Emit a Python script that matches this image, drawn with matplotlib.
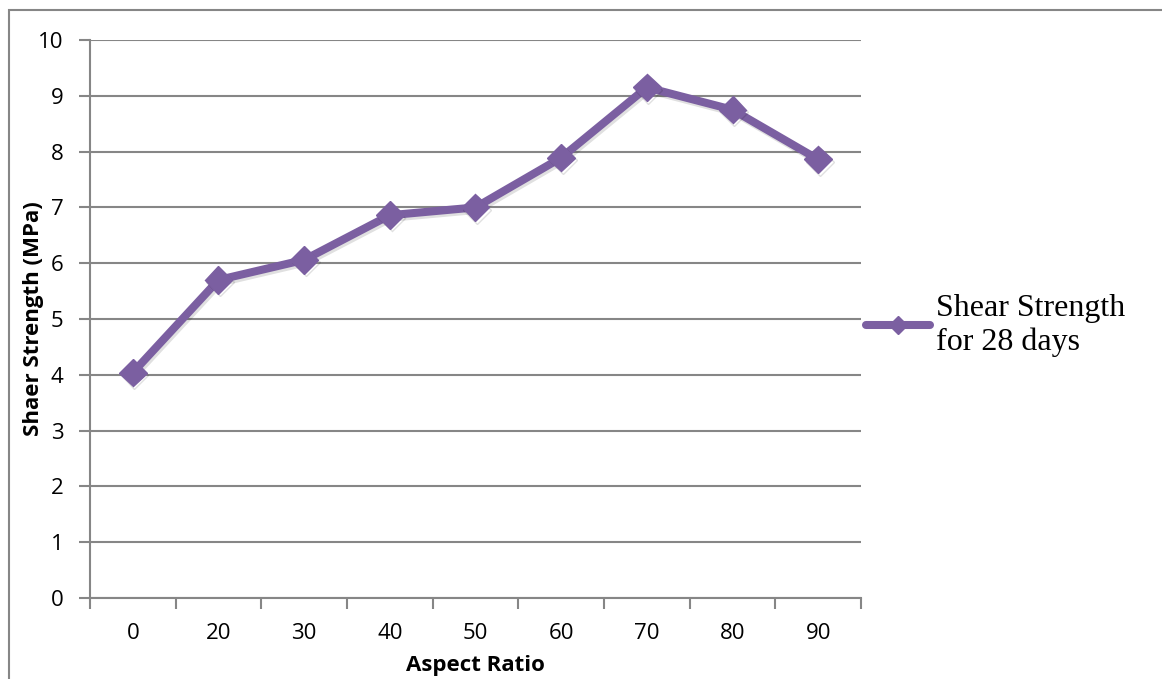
import matplotlib.pyplot as plt
import matplotlib.patheffects as pe
from matplotlib.lines import Line2D
from matplotlib.patches import Rectangle

aspect_ratio = ["0", "20", "30", "40", "50", "60", "70", "80", "90"]
shear_strength = [4.04, 5.70, 6.06, 6.86, 7.00, 7.89, 9.15, 8.75, 7.86]

W, H = 1162, 679
GRID = "#868686"
PURPLE = "#7b5fa1"

plt.rcParams["font.family"] = ["Open Sans", "DejaVu Sans"]

fig = plt.figure(figsize=(W / 100, H / 100), dpi=100)
fig.patch.set_facecolor("white")

# outer chart frame
fig.patches.append(Rectangle((9 / W, -0.1), 1.2, 1.1 - 10.5 / H,
                             transform=fig.transFigure, fill=False,
                             edgecolor=GRID, linewidth=1.5))

ax = fig.add_axes([90 / W, (H - 598) / H, 771 / W, 558 / H])
x = list(range(len(aspect_ratio)))

shadow = [pe.SimpleLineShadow(offset=(1.2, -1.8), shadow_color="black", alpha=0.12),
          pe.Normal()]
ax.plot(x, shear_strength, color=PURPLE, linewidth=5.8, marker="D",
        markersize=14, markerfacecolor=PURPLE, markeredgecolor=PURPLE,
        solid_joinstyle="round", path_effects=shadow, zorder=3)

ax.set_xlim(-0.5, len(aspect_ratio) - 0.5)
ax.set_ylim(0, 10)
ax.set_yticks(range(0, 11))
ax.yaxis.grid(True, color=GRID, linewidth=1.5)
ax.set_axisbelow(True)

# category boundaries carry the tick marks, labels sit at the centres
ax.set_xticks([i - 0.5 for i in range(len(aspect_ratio) + 1)])
ax.set_xticklabels([])
ax.set_xticks(x, minor=True)
ax.set_xticklabels(aspect_ratio, minor=True)
ax.tick_params(axis="x", which="minor", length=0, pad=18, labelsize=16)
ax.tick_params(axis="x", which="major", length=8, width=1.5, color=GRID, direction="out")
ax.tick_params(axis="y", length=8, width=1.5, color=GRID, pad=11, labelsize=16)

for side in ["top", "right"]:
    ax.spines[side].set_visible(False)
for side in ["left", "bottom"]:
    ax.spines[side].set_color(GRID)
    ax.spines[side].set_linewidth(1.5)

ax.set_xlabel("Aspect Ratio", fontsize=16, fontweight="bold", labelpad=8)
ax.set_ylabel("Shaer Strength (MPa)", fontsize=16, fontweight="bold", labelpad=-4)

handle = Line2D([], [], color=PURPLE, linewidth=5.8, marker="D", markersize=9,
                solid_capstyle="round")
fig.legend([handle], ["Shear Strength\nfor 28 days"], loc="center left",
           bbox_to_anchor=(866 / W, 1 - 325 / H), frameon=False,
           borderaxespad=0, borderpad=0,
           handlelength=2.0, handletextpad=0.2,
           prop={"family": "Liberation Serif", "size": 23})

fig.savefig("out.png", dpi=100)
